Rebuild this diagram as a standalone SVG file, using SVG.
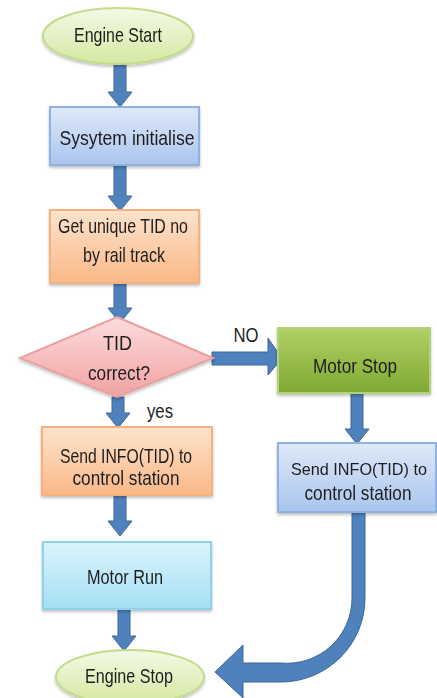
<svg xmlns="http://www.w3.org/2000/svg" width="437" height="698" viewBox="0 0 437 698">
<style>
  text { font-family: "Liberation Sans", Arial, sans-serif; font-size: 21px; fill: #1e1e1e; text-anchor: middle; }
  .arrow { fill: #4f81bd; stroke: #3c6797; stroke-width: 1; }
  .node { filter: url(#sh); }
</style>
<defs>
  <filter id="sh" x="-10%" y="-10%" width="120%" height="130%">
    <feDropShadow dx="0" dy="2" stdDeviation="1.5" flood-color="#000" flood-opacity="0.25"/>
  </filter>
  <linearGradient id="gGreen" x1="0" y1="0" x2="0" y2="1">
    <stop offset="0" stop-color="#f4f9e6"/><stop offset="1" stop-color="#d5e8a2"/>
  </linearGradient>
  <linearGradient id="gBlue" x1="0" y1="0" x2="0" y2="1">
    <stop offset="0" stop-color="#dfe9f8"/><stop offset="1" stop-color="#a9c5ee"/>
  </linearGradient>
  <linearGradient id="gOrange" x1="0" y1="0" x2="0" y2="1">
    <stop offset="0" stop-color="#fde3cd"/><stop offset="1" stop-color="#f9b887"/>
  </linearGradient>
  <linearGradient id="gPink" x1="0" y1="0" x2="0" y2="1">
    <stop offset="0" stop-color="#fcdcdc"/><stop offset="1" stop-color="#f2a2a2"/>
  </linearGradient>
  <linearGradient id="gMotorStop" x1="0" y1="0" x2="0" y2="1">
    <stop offset="0" stop-color="#b0d166"/><stop offset="1" stop-color="#7fa832"/>
  </linearGradient>
  <linearGradient id="gCyan" x1="0" y1="0" x2="0" y2="1">
    <stop offset="0" stop-color="#dcf3fc"/><stop offset="1" stop-color="#a4dff4"/>
  </linearGradient>
</defs>

<g id="connectors">
  <path class="arrow" d="M114 65 H126 V92 H132 L120 107 L108 92 H114 Z"/>
  <path class="arrow" d="M114 165 H126 V196 H132 L120 211 L108 196 H114 Z"/>
  <path class="arrow" d="M114 283 H126 V308 H132 L120 323 L108 308 H114 Z"/>
  <path class="arrow" d="M112 397 H124 V413 H130 L118 428 L106 413 H112 Z"/>
  <path class="arrow" d="M351 393 H363 V429 H369 L357 444 L345 429 H351 Z"/>
  <path class="arrow" d="M114 495 H126 V521 H132 L120 536 L108 521 H114 Z"/>
  <path class="arrow" d="M118 609 H130 V636 H136 L124 651 L112 636 H118 Z"/>
  <path class="arrow" d="M212 352 H268 V338 L282 358.5 L268 375 V365 H212 Z"/>
  <path class="arrow" d="M352 512 H365 V598 A84 84 0 0 1 281 682 H243 V698 L215 672 L243 645 V663 H281 A65 65 0 0 0 352 598 Z"/>
  <text x="246" y="342" textLength="25" lengthAdjust="spacingAndGlyphs">NO</text>
  <text x="160" y="418" textLength="26" lengthAdjust="spacingAndGlyphs">yes</text>
</g>

<g id="engine-start" class="node">
  <ellipse cx="118" cy="36" rx="75" ry="28" fill="url(#gGreen)" stroke="#c3db8a" stroke-width="2"/>
  <text x="118" y="42" textLength="88" lengthAdjust="spacingAndGlyphs">Engine Start</text>
</g>

<g id="system-init" class="node">
  <rect x="50" y="107" width="149" height="58" fill="url(#gBlue)" stroke="#8fb1e3" stroke-width="2"/>
  <text x="127" y="145" textLength="135" lengthAdjust="spacingAndGlyphs">Sysytem initialise</text>
</g>

<g id="get-tid" class="node">
  <rect x="50" y="210" width="149" height="73" fill="url(#gOrange)" stroke="#f5b27c" stroke-width="2"/>
  <text x="123" y="233" textLength="130" lengthAdjust="spacingAndGlyphs">Get unique TID no</text>
  <text x="124" y="262" textLength="82" lengthAdjust="spacingAndGlyphs">by rail track</text>
</g>

<g id="tid-correct" class="node">
  <polygon points="117,317 213,358 117,397 20,358" fill="url(#gPink)" stroke="#e8a0a0" stroke-width="2"/>
  <text x="117.5" y="350" textLength="29" lengthAdjust="spacingAndGlyphs">TID</text>
  <text x="119" y="380" textLength="62" lengthAdjust="spacingAndGlyphs">correct?</text>
</g>

<g id="motor-stop" class="node">
  <rect x="278" y="328" width="152" height="65" fill="url(#gMotorStop)" stroke="#b4d27a" stroke-width="2"/>
  <text x="355" y="373" textLength="84" lengthAdjust="spacingAndGlyphs">Motor Stop</text>
</g>

<g id="send-info-right" class="node">
  <rect x="278" y="443" width="158" height="69" fill="url(#gBlue)" stroke="#8fb1e3" stroke-width="2"/>
  <text x="359" y="475" style="font-size:16.5px" textLength="136" lengthAdjust="spacingAndGlyphs">Send INFO(TID) to</text>
  <text x="358" y="500" textLength="107" lengthAdjust="spacingAndGlyphs">control station</text>
</g>

<g id="send-info-left" class="node">
  <rect x="42" y="427" width="170" height="68" fill="url(#gOrange)" stroke="#f5b27c" stroke-width="2"/>
  <text x="126" y="463" textLength="132" lengthAdjust="spacingAndGlyphs">Send INFO(TID) to</text>
  <text x="126" y="485" textLength="107" lengthAdjust="spacingAndGlyphs">control station</text>
</g>

<g id="motor-run" class="node">
  <rect x="43" y="542" width="168" height="67" fill="url(#gCyan)" stroke="#8fd0ea" stroke-width="2"/>
  <text x="125" y="584" textLength="76" lengthAdjust="spacingAndGlyphs">Motor Run</text>
</g>

<g id="engine-stop" class="node">
  <ellipse cx="130" cy="677" rx="74" ry="27" fill="url(#gGreen)" stroke="#c3db8a" stroke-width="2"/>
  <text x="129" y="683" textLength="88" lengthAdjust="spacingAndGlyphs">Engine Stop</text>
</g>
</svg>
